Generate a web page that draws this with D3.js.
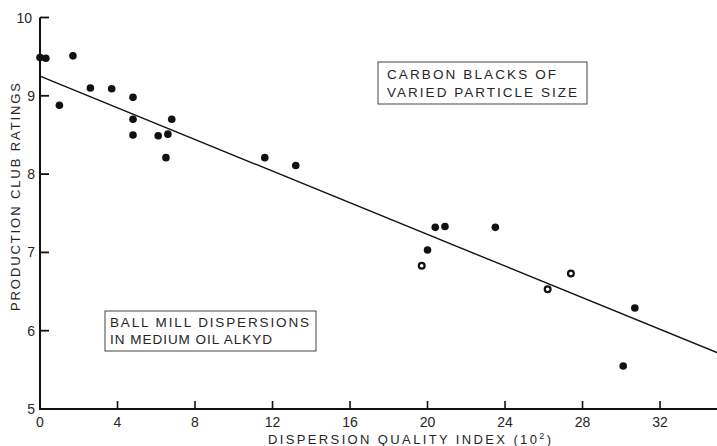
<!DOCTYPE html>
<html>
<head>
<meta charset="utf-8">
<script src="https://cdn.jsdelivr.net/npm/d3@7"></script>
<style>
  body { margin: 0; background: #fff; }
  svg text { font-family: "Liberation Sans", "DejaVu Sans", sans-serif; fill: #262626; }
</style>
</head>
<body>
<svg id="chart"></svg>
<script>
// dispersion quality index (x 10^2) vs production club rating
const filledX = [0, 0.3, 1.7, 1.0, 2.6, 3.7, 4.8, 4.8, 4.8, 6.1, 6.6, 6.8, 6.5, 11.6, 13.2, 20.4, 20.9, 23.5, 20.0, 30.7, 30.1];
const filledY = [9.49, 9.48, 9.51, 8.88, 9.10, 9.09, 8.98, 8.70, 8.50, 8.49, 8.51, 8.70, 8.21, 8.21, 8.11, 7.32, 7.33, 7.32, 7.03, 6.29, 5.55];
const openX = [19.7, 26.2, 27.4];
const openY = [6.83, 6.53, 6.73];
const fitLine = [[0, 9.25], [34.94, 5.72]];
const xTicks = [4, 8, 12, 16, 20, 24, 28, 32];
const xTickLabels = [0, 4, 8, 12, 16, 20, 24, 28, 32];
const yTicks = [5, 6, 7, 8, 9, 10];

const w = 717;
const h = 446;

const svg = d3.select("#chart")
  .attr("width", w)
  .attr("height", h);

const x = d3.scaleLinear().domain([0, 34.94]).range([40, 717]);
const y = d3.scaleLinear().domain([5, 10]).range([409, 17.5]);

// axis lines
svg.append("line")
  .attr("x1", x(0)).attr("x2", w)
  .attr("y1", y(5)).attr("y2", y(5))
  .attr("stroke", "#111").attr("stroke-width", 2);
svg.append("line")
  .attr("x1", x(0)).attr("x2", x(0))
  .attr("y1", y(5) + 1).attr("y2", y(10))
  .attr("stroke", "#111").attr("stroke-width", 2);

// ticks point inward
svg.selectAll(".xtick")
  .data(xTicks)
  .enter().append("line")
  .attr("x1", d => x(d)).attr("x2", d => x(d))
  .attr("y1", y(5)).attr("y2", y(5) - 8)
  .attr("stroke", "#111").attr("stroke-width", 1.6);

svg.selectAll(".ytick")
  .data(yTicks.filter(d => d > 5))
  .enter().append("line")
  .attr("x1", x(0)).attr("x2", x(0) + 9)
  .attr("y1", d => y(d)).attr("y2", d => y(d))
  .attr("stroke", "#111").attr("stroke-width", 1.8);

svg.selectAll(".xlab")
  .data(xTickLabels)
  .enter().append("text")
  .attr("x", d => x(d))
  .attr("y", 427)
  .attr("text-anchor", "middle")
  .style("font-size", "14px")
  .text(d => d);

svg.selectAll(".ylab")
  .data(yTicks)
  .enter().append("text")
  .attr("x", d => d == 10 ? 32 : 35)
  .attr("y", d => y(d) + 5)
  .attr("text-anchor", "end")
  .style("font-size", "14px")
  .text(d => d);

// axis titles
const xt = svg.append("text")
  .attr("x", 268)
  .attr("y", 444)
  .attr("textLength", 283)
  .attr("lengthAdjust", "spacing")
  .style("font-size", "13px");
xt.append("tspan").text("DISPERSION QUALITY INDEX (10");
xt.append("tspan").attr("dy", -5).style("font-size", "9px").text("2");
xt.append("tspan").attr("dy", 5).text(")");

svg.append("text")
  .attr("transform", "translate(20,197) rotate(-90)")
  .attr("text-anchor", "middle")
  .attr("textLength", 228)
  .attr("lengthAdjust", "spacing")
  .style("font-size", "13px")
  .text("PRODUCTION CLUB RATINGS");

// regression line
svg.append("path")
  .datum(fitLine)
  .attr("d", d3.line().x(d => x(d[0])).y(d => y(d[1])))
  .attr("fill", "none")
  .attr("stroke", "#111")
  .attr("stroke-width", 1.4);

// points
svg.selectAll(".dot")
  .data(filledX)
  .enter().append("circle")
  .attr("cx", d => x(d))
  .attr("cy", (d, i) => y(filledY[i]))
  .attr("r", 3.8)
  .attr("fill", "#111");

svg.selectAll(".ring")
  .data(openX)
  .enter().append("circle")
  .attr("cx", d => x(d))
  .attr("cy", (d, i) => y(openY[i]))
  .attr("r", 2.9)
  .attr("fill", "#fff")
  .attr("stroke", "#111")
  .attr("stroke-width", 2.2);

// annotation boxes
function noteBox(bx, by, bw, bh, lines) {
  svg.append("rect")
    .attr("x", bx).attr("y", by)
    .attr("width", bw).attr("height", bh)
    .attr("fill", "none")
    .attr("stroke", "#444")
    .attr("stroke-width", 1);
  lines.forEach(function (l) {
    svg.append("text")
      .attr("x", l.x).attr("y", l.y)
      .attr("textLength", l.len)
      .attr("lengthAdjust", "spacing")
      .style("font-size", "13.5px")
      .text(l.t);
  });
}

noteBox(378, 62, 209, 42, [
  { t: "CARBON BLACKS OF", x: 387, y: 79, len: 169 },
  { t: "VARIED PARTICLE SIZE", x: 387, y: 97, len: 190 }
]);

noteBox(105, 311, 211, 40, [
  { t: "BALL MILL DISPERSIONS", x: 110, y: 327, len: 199 },
  { t: "IN MEDIUM OIL ALKYD", x: 110, y: 344, len: 162 }
]);
</script>
</body>
</html>
